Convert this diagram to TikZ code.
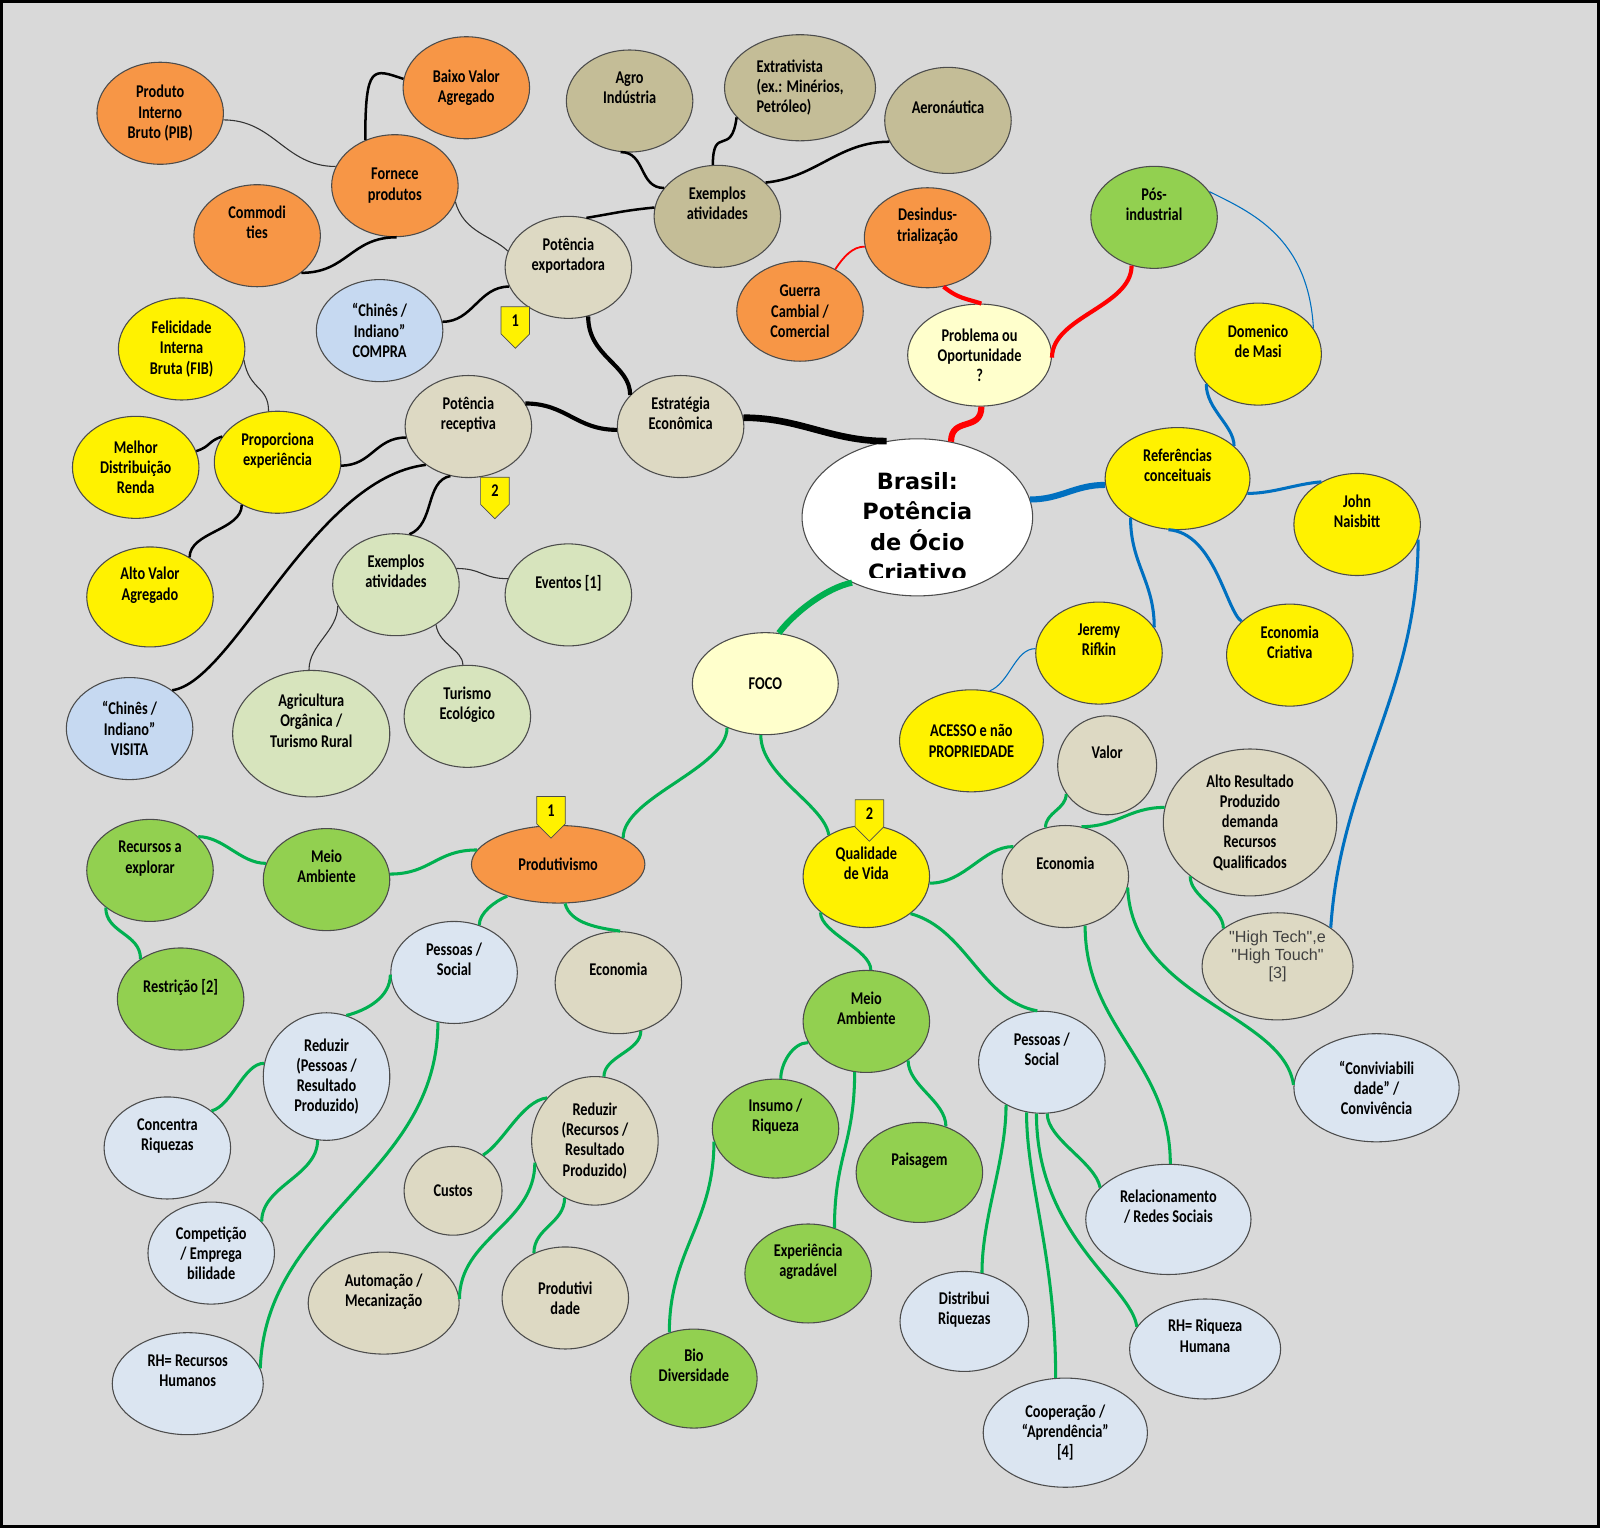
\documentclass[tikz,border=0pt]{standalone}
\usepackage{fontspec}
\setmainfont{Carlito}[FakeStretch=0.8]
\newfontfamily\titlefont{DejaVu Sans}
\newfontfamily\plainfont{Liberation Sans}
\usetikzlibrary{shapes.geometric, shapes.symbols}

\definecolor{bggray}{RGB}{217,217,217}
\definecolor{orng}{RGB}{247,150,70}
\definecolor{darktan}{RGB}{196,189,151}
\definecolor{beige}{RGB}{221,217,195}
\definecolor{lblue}{RGB}{198,217,241}
\definecolor{pblue}{RGB}{219,229,241}
\definecolor{lgreen}{RGB}{215,228,189}
\definecolor{grn}{RGB}{146,208,80}
\definecolor{cream}{RGB}{255,255,204}
\definecolor{lnblue}{RGB}{0,112,192}
\definecolor{lngreen}{RGB}{0,176,80}
\newcommand\blankln{\\\strut}

\begin{document}
\begin{tikzpicture}[
    x=0.02cm, y=-0.02cm,
    bubble/.style={ellipse, draw=black!70, line width=0.6pt, inner sep=0pt, align=center,
        font=\bfseries\fontsize{10}{11.3}\selectfont, minimum width=2.48cm, minimum height=2cm},
    flag/.style={signal, signal to=south, draw=black!70, fill=yellow, inner sep=1pt,
        font=\bfseries\fontsize{10}{11}\selectfont, minimum width=0.56cm, minimum height=0.64cm},
    blk1/.style={black!80, line width=0.6pt},
    blk2/.style={black, line width=1.4pt},
    blk3/.style={black, line width=2.3pt},
    blk4/.style={black, line width=3.7pt},
    red1/.style={red, line width=1pt},
    red2/.style={red, line width=2.3pt},
    red3/.style={red, line width=3.4pt},
    blu1/.style={lnblue, line width=0.6pt},
    blu2/.style={lnblue, line width=1.7pt},
    blu3/.style={lnblue, line width=3.4pt},
    grn2/.style={lngreen, line width=1.7pt},
    grn3/.style={lngreen, line width=3.4pt}
]
\useasboundingbox (0,0) rectangle (1568,1497);
\fill[bggray] (0,0) rectangle (1568,1497);

\node[bubble, fill=orng] (pib) at (157,111) {Produto\\Interno\\Bruto (PIB)};
\node[bubble, fill=orng] (baixo) at (457,86) {Baixo Valor\\Agregado};
\node[bubble, fill=orng] (fornece) at (387,182) {Fornece\\produtos};
\node[bubble, fill=orng] (commod) at (252,231) {Commodi\\ties\blankln};
\node[bubble, fill=darktan] (agro) at (617,99) {Agro\\Indústria\blankln};
\node[bubble, fill=darktan, minimum width=2.96cm, minimum height=2.08cm, align=left] (extrat) at (784,86) {Extrativista\\(ex.: Minérios,\\Petróleo)};
\node[bubble, fill=darktan, minimum height=2.08cm] (aero) at (929,118) {Aeronáutica\blankln};
\node[bubble, fill=darktan] (exemplos) at (703,212) {Exemplos\\atividades\blankln};
\node[bubble, fill=beige] (exporta) at (557,262) {Potência\\exportadora\blankln};
\node[bubble, fill=lblue] (compra) at (372,324) {“Chinês /\\Indiano”\\COMPRA};
\node[bubble, fill=beige] (estrat) at (667,418) {Estratégia\\Econômica\blankln};
\node[bubble, fill=beige] (recept) at (459,418) {Potência\\receptiva\blankln};
\node[bubble, fill=yellow] (fib) at (178,342) {Felicidade\\Interna\\Bruta (FIB)};
\node[bubble, fill=yellow] (propor) at (272,453) {Proporciona\\experiência\blankln};
\node[bubble, fill=yellow] (melhor) at (133,458) {Melhor\\Distribuição\\Renda};
\node[bubble, fill=yellow, minimum height=1.96cm] (altovalor) at (147,585) {Alto Valor\\Agregado\blankln};
\node[bubble, fill=lgreen] (exemplos2) at (388,573) {Exemplos\\atividades\blankln};
\node[bubble, fill=lgreen] (eventos) at (557,583) {Eventos [1]\blankln};
\node[bubble, fill=lblue] (visita) at (127,714) {“Chinês /\\Indiano”\\VISITA};
\node[bubble, fill=lgreen, minimum width=3.08cm, minimum height=2.48cm] (agric) at (305,719) {Agricultura\\Orgânica /\\Turismo Rural\blankln};
\node[bubble, fill=lgreen] (turismo) at (458,702) {Turismo\\Ecológico\blankln};
\node[flag] (flag1a) at (505,314) {1};
\node[flag] (flag2a) at (485,481) {2};

\node[bubble, fill=white, minimum width=4.52cm, minimum height=3.08cm] (brasil) at (899,507) {};
\begin{scope}
\clip (786,440) rectangle (1012,566);
\node[font=\titlefont\bfseries\fontsize{12.5}{16.8}\selectfont, align=center, inner sep=0pt, anchor=north] (brasiltitle) at (899,463) {Brasil:\\Potência\\de Ócio\\Criativo};
\end{scope}

\node[bubble, fill=orng, minimum height=1.96cm] (desind) at (909,233) {Desindus-\\trialização\blankln};
\node[bubble, fill=orng, minimum height=1.96cm] (guerra) at (784,305) {Guerra\\Cambial /\\Comercial};
\node[bubble, fill=cream, minimum width=2.82cm] (problema) at (960,348) {Problema ou\\Oportunidade\\?};
\node[bubble, fill=grn] (posind) at (1131,213) {Pós-\\industrial\blankln};
\node[bubble, fill=yellow] (masi) at (1233,347) {Domenico\\de Masi\blankln};
\node[bubble, fill=yellow, minimum width=2.84cm] (refer) at (1154,469) {Referências\\conceituais\blankln};
\node[bubble, fill=yellow] (john) at (1330,514) {John\\Naisbitt\blankln};
\node[bubble, fill=yellow] (rifkin) at (1077,640) {Jeremy\\Rifkin\blankln};
\node[bubble, fill=yellow] (ecocri) at (1264,642) {Economia\\Criativa\blankln};
\node[bubble, fill=yellow, minimum width=2.82cm] (acesso) at (952,726) {ACESSO e não\\PROPRIEDADE};
\node[bubble, fill=cream, minimum width=2.86cm] (foco) at (750,670) {FOCO};

\node[bubble, fill=orng, minimum width=3.4cm, minimum height=1.52cm] (produt) at (547,847) {Produtivismo};
\node[flag] (flag1b) at (540,794) {1};
\node[bubble, fill=yellow] (qualid) at (849,859) {Qualidade\\de Vida\blankln};
\node[flag] (flag2b) at (852,797) {2};
\node[bubble, fill=grn] (meio1) at (320,862) {Meio\\Ambiente\blankln};
\node[bubble, fill=grn] (recursos) at (147,853) {Recursos a\\explorar\blankln};
\node[bubble, fill=grn] (restr) at (177,979) {Restrição [2]\blankln};
\node[bubble, fill=pblue] (pessoas1) at (445,953) {Pessoas /\\Social\blankln};
\node[bubble, fill=beige] (econ1) at (606,963) {Economia\blankln};
\node[bubble, fill=pblue, minimum height=2.5cm] (redpes) at (320,1055) {Reduzir\\(Pessoas /\\Resultado\\Produzido)};
\node[bubble, fill=pblue] (concent) at (164,1125) {Concentra\\Riquezas\blankln};
\node[bubble, fill=pblue] (compet) at (207,1228) {Competição\\/ Emprega\\bilidade};
\node[bubble, fill=pblue, minimum width=2.96cm] (rhrec) at (184,1356) {RH= Recursos\\Humanos\blankln};
\node[bubble, fill=beige, minimum height=2.52cm] (redrec) at (583,1118) {Reduzir\\(Recursos /\\Resultado\\Produzido)};
\node[bubble, fill=beige, minimum width=1.92cm, minimum height=1.74cm] (custos) at (444,1167) {Custos};
\node[bubble, fill=beige, minimum width=2.96cm] (automa) at (376,1277) {Automação /\\Mecanização\blankln};
\node[bubble, fill=beige] (produtiv) at (554,1272) {Produtivi\\dade};

\node[bubble, fill=beige] (econ2) at (1044,859) {Economia\blankln};
\node[bubble, fill=beige, minimum width=1.94cm, minimum height=1.94cm] (valor) at (1085,750) {Valor\blankln};
\node[bubble, fill=beige, minimum width=3.4cm, minimum height=2.88cm] (altores) at (1225,806) {Alto Resultado\\Produzido\\demanda\\Recursos\\Qualificados};
\node[bubble, fill=beige, minimum width=2.96cm, minimum height=2.1cm, font=\plainfont\fontsize{9}{10}\selectfont, text=black!75] (hightech) at (1252,947) {"High Tech",e\\"High Touch"\\{[3]}\blankln};
\node[bubble, fill=pblue, minimum width=3.24cm, minimum height=2.12cm] (convivi) at (1349,1066) {“Conviviabili\\dade” /\\Convivência};
\node[bubble, fill=grn] (meio2) at (849,1001) {Meio\\Ambiente\blankln};
\node[bubble, fill=grn, minimum height=1.94cm] (insumo) at (760,1106) {Insumo /\\Riqueza\blankln};
\node[bubble, fill=grn, minimum height=1.96cm] (paisag) at (901,1149) {Paisagem\blankln};
\node[bubble, fill=grn, minimum height=1.94cm] (experi) at (792,1248) {Experiência\\agradável\blankln};
\node[bubble, fill=grn, minimum height=1.94cm] (biodiv) at (680,1351) {Bio\\Diversidade\blankln};
\node[bubble, fill=pblue] (pessoas2) at (1021,1041) {Pessoas /\\Social\blankln};
\node[bubble, fill=pblue, minimum width=3.24cm, minimum height=2.16cm] (relac) at (1145,1195) {Relacionamento\\/ Redes Sociais\blankln};
\node[bubble, fill=pblue, minimum width=2.52cm, minimum height=1.96cm] (distrib) at (945,1295) {Distribui\\Riquezas\blankln};
\node[bubble, fill=pblue, minimum width=2.96cm, minimum height=1.96cm] (rhriq) at (1181,1322) {RH= Riqueza\\Humana\blankln};
\node[bubble, fill=pblue, minimum width=3.22cm, minimum height=2.14cm] (cooper) at (1044,1404) {Cooperação /\\“Aprendência”\\{[4]}};

\draw[blk1] (pib.-6) .. controls +(50,0) and +(-50,0) .. (fornece.162);
\draw[blk2] (fornece.123) .. controls +(0,-75) and +(-30,-10) .. (baixo.172);
\draw[blk2] (commod.-40) .. controls +(45,0) and +(-45,0) .. (fornece.-88);
\draw[blk1] (fornece.-15) .. controls +(8,30) and +(-15,-15) .. (exporta.165);
\draw[blk2] (exporta.70) .. controls +(30,-5) and +(-30,3) .. (exemplos.172);
\draw[blk2] (agro.-100) .. controls +(25,0) and +(-25,0) .. (exemplos.152);
\draw[blk2] (exemplos.95) .. controls +(0,-40) and +(-5,40) .. (extrat.205);
\draw[blk2] (exemplos.35) .. controls +(50,-5) and +(-50,0) .. (aero.200);
\draw[blk2] (compra.8) .. controls +(30,0) and +(-30,0) .. (exporta.198);
\draw[blk3] (exporta.-68) .. controls +(0,40) and +(0,-30) .. (estrat.148);
\draw[blk3] (recept.22) .. controls +(40,0) and +(-40,0) .. (estrat.183);
\draw[blk4] (estrat.8) .. controls +(55,0) and +(-55,0) .. (brasil.112);
\draw[blk1] (fib.-10) .. controls +(5,30) and +(0,-25) .. (propor.100);
\draw[blk2] (melhor.15) .. controls +(15,-5) and +(-15,5) .. (propor.155);
\draw[blk2] (altovalor.45) .. controls +(0,-25) and +(0,25) .. (propor.-130);
\draw[blk2] (propor.-3) .. controls +(30,0) and +(-30,0) .. (recept.190);
\draw[blk2] (recept.222) .. controls +(-110,13) and +(60,-8) .. (visita.42);
\draw[blk2] (recept.-110) .. controls +(-25,5) and +(25,-10) .. (exemplos2.75);
\draw[blk1] (exemplos2.15) .. controls +(25,0) and +(-25,0) .. (eventos.165);
\draw[blk1] (exemplos2.200) .. controls +(0,25) and +(0,-25) .. (agric.92);
\draw[blk1] (exemplos2.-45) .. controls +(3,20) and +(0,-15) .. (turismo.95);

\draw[red3] (brasil.66) .. controls +(0,-25) and +(0,25) .. (problema.-88);
\draw[red2] (desind.-72) .. controls +(15,12) and +(-15,-5) .. (problema.88);
\draw[red2] (problema.-2) .. controls +(0,-40) and +(0,40) .. (posind.-115);
\draw[red1] (guerra.50) .. controls +(8,-12) and +(-12,0) .. (desind.188);

\draw[blu3] (brasil.9) .. controls +(30,0) and +(-30,0) .. (refer.185);
\draw[blu2] (refer.30) .. controls +(0,-20) and +(0,25) .. (masi.210);
\draw[blu1] (posind.25) .. controls +(40,20) and +(-5,-90) .. (masi.25);
\draw[blu2] (refer.-12) .. controls +(25,0) and +(-25,2) .. (john.130);
\draw[blu2] (refer.220) .. controls +(0,45) and +(0,-45) .. (rifkin.25);
\draw[blu2] (refer.-100) .. controls +(45,3) and +(-15,-10) .. (ecocri.145);
\draw[blu2] (john.-14) .. controls +(0,150) and +(10,-150) .. (hightech.36);
\draw[blu1] (rifkin.176) .. controls +(-20,0) and +(20,-8) .. (acesso.70);

\draw[grn3] (brasil.225) .. controls +(-25,5) and +(15,-20) .. (foco.75);
\draw[grn2] (foco.229) .. controls +(0,40) and +(0,-40) .. (produt.22);
\draw[grn2] (foco.-95) .. controls +(0,40) and +(-5,-30) .. (qualid.132);
\draw[grn2] (produt.170) .. controls +(-40,0) and +(40,0) .. (meio1.5);
\draw[grn2] (meio1.165) .. controls +(-25,0) and +(25,0) .. (recursos.35);
\draw[grn2] (recursos.220) .. controls +(0,25) and +(0,-25) .. (restr.135);
\draw[grn2] (produt.212) .. controls +(-12,5) and +(0,-12) .. (pessoas1.62);
\draw[grn2] (produt.-80) .. controls +(5,20) and +(-20,-3) .. (econ1.88);
\draw[grn2] (pessoas1.182) .. controls +(0,22) and +(20,-5) .. (redpes.72);
\draw[grn2] (pessoas1.-108) .. controls +(0,150) and +(5,-150) .. (rhrec.12);
\draw[grn2] (redpes.168) .. controls +(-20,0) and +(20,-5) .. (concent.40);
\draw[grn2] (redpes.-98) .. controls +(0,35) and +(0,-35) .. (compet.32);
\draw[grn2] (econ1.-65) .. controls +(0,20) and +(0,-20) .. (redrec.82);
\draw[grn2] (redrec.138) .. controls +(-25,3) and +(20,-12) .. (custos.50);
\draw[grn2] (redrec.200) .. controls +(0,60) and +(0,-60) .. (automa.3);
\draw[grn2] (redrec.-118) .. controls +(0,25) and +(0,-25) .. (produtiv.125);
\draw[grn2] (qualid.218) .. controls +(0,20) and +(0,-20) .. (meio2.85);
\draw[grn2] (qualid.-6) .. controls +(35,0) and +(-30,0) .. (econ2.150);
\draw[grn2] (qualid.-40) .. controls +(55,15) and +(-55,-10) .. (pessoas2.95);
\draw[grn2] (econ2.112) .. controls +(0,-15) and +(0,15) .. (valor.215);
\draw[grn2] (econ2.72) .. controls +(35,0) and +(-35,0) .. (altores.170);
\draw[grn2] (econ2.-68) .. controls +(0,100) and +(0,-100) .. (relac.88);
\draw[grn2] (econ2.-10) .. controls +(5,110) and +(-10,-70) .. (convivi.178);
\draw[grn2] (altores.222) .. controls +(0,20) and +(0,-20) .. (hightech.145);
\draw[grn2] (meio2.200) .. controls +(-15,0) and +(0,-15) .. (insumo.84);
\draw[grn2] (meio2.-43) .. controls +(0,25) and +(0,-25) .. (paisag.60);
\draw[grn2] (meio2.-103) .. controls +(0,70) and +(0,-70) .. (experi.60);
\draw[grn2] (insumo.192) .. controls +(0,80) and +(0,-80) .. (biodiv.118);
\draw[grn2] (pessoas2.230) .. controls +(0,55) and +(0,-55) .. (distrib.70);
\draw[grn2] (pessoas2.253) .. controls +(0,70) and +(0,-120) .. (cooper.100);
\draw[grn2] (pessoas2.264) .. controls +(0,120) and +(-5,-40) .. (rhriq.162);
\draw[grn2] (pessoas2.-84) .. controls +(0,25) and +(-5,-25) .. (relac.155);

\draw[line width=1.6pt] (1.4,1.4) rectangle (1566.6,1495.6);
\end{tikzpicture}
\end{document}
